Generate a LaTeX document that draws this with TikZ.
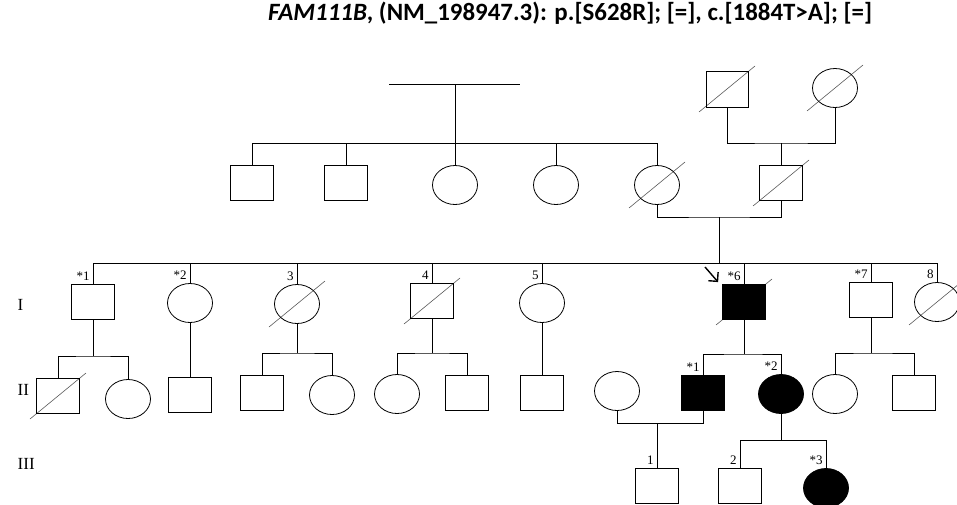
\documentclass[tikz,border=0pt]{standalone}
\usepackage{fontspec}
\setmainfont{Liberation Serif}
\newfontfamily\titlefont{Carlito}
\usetikzlibrary{shapes.geometric, positioning, calc, arrows.meta, backgrounds}
\tikzset{%
    pedigree/.style={x=1pt, y=-1pt, line width=0.8pt, every node/.style={font=\fontsize{13}{15}\selectfont}},
    male/.style={draw, rectangle, minimum width=43pt, minimum height=35pt, inner sep=0pt},
    female/.style={draw, ellipse, minimum width=45pt, minimum height=39pt, inner sep=0pt},
    affected/.style={fill=black},
    tag/.style={label={[anchor=south east, inner sep=0pt, xshift=-3pt, yshift=3pt]north:#1}},
    slashline/.style={draw=black!65, line width=0.6pt},
    proband/.style={line width=1.4pt, -{Straight Barb[length=6.5pt, width=13pt]}},
    genlabel/.style={anchor=west, font=\fontsize{17}{19}\selectfont},
}
\newcommand{\deceased}[1]{\draw[slashline] ($(#1.center)+(-28,23)$) -- ($(#1.center)+(28,-23)$);}

\begin{document}
\begin{tikzpicture}[pedigree]
	\useasboundingbox (0,0) rectangle (957,504);

	\node[anchor=base, font=\titlefont\fontsize{24.9}{28}\selectfont\bfseries] (title) at (570,20)
		{\textit{FAM111B}, (NM\_198947.3): p.[S628R]; [=], c.[1884T>A]; [=]};

	% generations
	\node[genlabel] (gI) at (14,305) {I};
	\node[genlabel] (gII) at (14,390) {II};
	\node[genlabel] (gIII) at (14,464) {III};

	% grandparents
	\coordinate (m0l) at (389,84);
	\coordinate (m0r) at (520,84);
	\coordinate (m0) at (455,84);
	\coordinate (sibA) at (455,143);
	\node[male] (a1) at (252,183) {};
	\node[male] (a2) at (346,183) {};
	\node[female] (a3) at (455,185) {};
	\node[female] (a4) at (556,185) {};
	\node[female] (a5) at (657,185) {};

	\node[male, minimum width=42pt, minimum height=36pt] (g1) at (727,89) {};
	\node[female] (g2) at (835,88) {};
	\node[male] (a6) at (781,183) {};
	\coordinate (mG) at (781,143);
	\coordinate (mB) at (719,217);
	\coordinate (sibB) at (719,263);

	% generation I
	\node[male, tag=*1] (b1) at (93,302) {};
	\node[female, tag=*2] (b2) at (190,303) {};
	\node[female, tag=3] (b3) at (297,304) {};
	\node[male, tag=4] (b4) at (432,301) {};
	\node[female, tag=5] (b5) at (542,303) {};
	\node[male, affected, tag=*6] (b6) at (744,302) {};
	\node[male, tag=*7] (b7) at (871,300) {};
	\node[female, tag=8] (b8) at (937,302) {};
	\coordinate (pbtail) at (705,267);

	% generation II
	\node[male] (c1) at (58,396) {};
	\node[female] (c2) at (128,399) {};
	\node[male] (c3) at (190,395) {};
	\node[male] (c4) at (262,393) {};
	\node[female] (c5) at (332,395) {};
	\node[female] (c6) at (397,394) {};
	\node[male] (c7) at (467,393) {};
	\node[male] (c8) at (542,393) {};
	\node[female] (c9) at (617,391) {};
	\node[male, affected, tag=*1] (c10) at (703,393) {};
	\node[female, affected, tag=*2] (c11) at (781,394) {};
	\node[female] (c12) at (835,394) {};
	\node[male] (c13) at (914,393) {};
	\coordinate (sibC1) at (93,356);
	\coordinate (sibC3) at (297,353);
	\coordinate (sibC4) at (432,353);
	\coordinate (sibC6) at (744,354);
	\coordinate (sibC7) at (871,353);

	% generation III
	\node[male, tag=1] (d1) at (657,486) {};
	\node[male, tag=2] (d2) at (740,486) {};
	\node[female, affected, tag=*3] (d3) at (826,488) {};
	\coordinate (mD) at (657,423);
	\coordinate (sibD) at (781,440);

	% deceased
	\begin{pgfonlayer}{background}
		\foreach \n in {a5,a6,g1,g2,b3,b4,b6,b8,c1}
			{\deceased{\n}}
	\end{pgfonlayer}

	% lines
	\draw (m0l) -- (m0r);
	\draw (m0) -- (sibA);
	\draw (a1.north |- sibA) -- (a5.north |- sibA);
	\foreach \n in {a1,a2,a3,a4,a5}
		\draw (\n.north) -- (\n.north |- sibA);

	\draw (g1.south) |- (mG) -| (g2.south);
	\draw (mG) -- (a6.north);
	\draw (a5.south) |- (mB) -| (a6.south);
	\draw (mB) -- (sibB);

	\draw (b1.north |- sibB) -- (b8.north |- sibB);
	\foreach \n in {b1,b2,b3,b4,b5,b6,b7,b8}
		\draw (\n.north) -- (\n.north |- sibB);
	\draw[proband] (pbtail) -- ($(b6.north west)+(-4,-2)$);

	\draw (b1.south) -- (sibC1);
	\draw (c1.north) |- (sibC1) -| (c2.north);
	\draw (b2.south) -- (c3.north);
	\draw (b3.south) -- (sibC3);
	\draw (c4.north) |- (sibC3) -| (c5.north);
	\draw (b4.south) -- (sibC4);
	\draw (c6.north) |- (sibC4) -| (c7.north);
	\draw (b5.south) -- (c8.north);
	\draw (b6.south) -- (sibC6);
	\draw (c10.north) |- (sibC6) -| (c11.north);
	\draw (b7.south) -- (sibC7);
	\draw (c12.north) |- (sibC7) -| (c13.north);

	\draw (c9.south) |- (mD) -| (c10.south);
	\draw (mD) -- (d1.north);
	\draw (c11.south) -- (sibD);
	\draw (d2.north) |- (sibD) -| (d3.north);
\end{tikzpicture}
\end{document}
